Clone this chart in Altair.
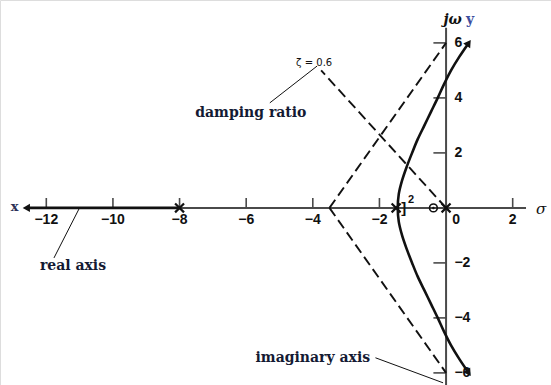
import math
import altair as alt
import pandas as pd

# ---- s-plane window (sigma, j-omega) ----
X_DOMAIN = [-13.39, 3.15]
Y_DOMAIN = [-6.44, 7.56]
PX_X = 551 / (X_DOMAIN[1] - X_DOMAIN[0])
PX_Y = 385 / (Y_DOMAIN[1] - Y_DOMAIN[0])

# ---- open-loop poles and zeros ----
poles = [-8.0, -1.5, 0.0]
zeros = [-0.38]

# ---- root-locus branches ----
real_branch_sigma = [-8.0, -12.6]
upper_omega = [0, 0.5, 1, 1.5, 2, 2.5, 3, 3.5, 4, 4.5, 5, 5.5, 6]
upper_sigma = [-1.45, -1.42, -1.32, -1.18, -1.02, -0.85, -0.65, -0.45, -0.25, -0.06, 0.15, 0.4, 0.68]

# ---- asymptotes (centroid, end points on the j-omega axis) ----
centroid = -3.5
asym_end_omega = [6.0, -6.0]

# ---- constant damping ratio line ----
zeta_sigma = [0.0, -3.75]
zeta_omega = [0.0, 5.0]

# ---- axes ----
x_ticks = [-12, -10, -8, -6, -4, -2, 2]
y_ticks = [6, 4, 2, -2, -4, -6]

xs = alt.Scale(domain=X_DOMAIN, nice=False, zero=False)
ys = alt.Scale(domain=Y_DOMAIN, nice=False, zero=False)


def X(field="x"):
    return alt.X(f"{field}:Q", scale=xs, axis=None)


def Y(field="y"):
    return alt.Y(f"{field}:Q", scale=ys, axis=None)


def segs(rows, **mark):
    df = pd.DataFrame(rows, columns=["x", "y", "x2", "y2"])
    return alt.Chart(df).mark_rule(**mark).encode(
        x=X(), y=Y(), x2="x2:Q", y2="y2:Q")


def label(rows, **mark):
    df = pd.DataFrame(rows, columns=["x", "y", "t"])
    return alt.Chart(df).mark_text(**mark).encode(x=X(), y=Y(), text="t:N")


AXIS = "#4a4a4a"
INK = "#111111"

# axis lines
axes = segs([[-12.55, 0, 2.4, 0], [0, 6.55, 0, Y_DOMAIN[0]]],
            color=AXIS, strokeWidth=2)

# tick marks
tick_rows = [[t, 0, t, 0.36] for t in x_ticks] + [[-0.38, t, 0, t] for t in y_ticks]
ticks = segs(tick_rows, color=AXIS, strokeWidth=1.6)

tick_font = dict(font="Liberation Sans", fontWeight="bold", fontSize=14, color=INK)
xlab = label([[t, -0.45, f"\u2212{abs(t)}" if t < 0 else str(t)] for t in x_ticks]
             + [[0.3, -0.45, "0"]], align="center", baseline="middle", **tick_font)
ylab = label([[0.25, t, f"\u2212{abs(t)}" if t < 0 else str(t)] for t in y_ticks],
             align="left", baseline="middle", **tick_font)

# locus on the real axis
real_branch = segs([[real_branch_sigma[0], 0, real_branch_sigma[1], 0]],
                   color=INK, strokeWidth=2.6)

# complex branch pair (lower half mirrored)
curve_rows = []
for i, (s, w) in enumerate(zip(reversed(upper_sigma), reversed(upper_omega))):
    curve_rows.append({"x": s, "y": -w, "o": i})
n = len(curve_rows)
for i, (s, w) in enumerate(zip(upper_sigma[1:], upper_omega[1:])):
    curve_rows.append({"x": s, "y": w, "o": n + i})
curve = alt.Chart(pd.DataFrame(curve_rows)).mark_line(
    color=INK, strokeWidth=2.6, interpolate="catmull-rom").encode(
    x=X(), y=Y(), order="o:Q")

# arrowheads along the direction of travel
dx = (upper_sigma[-1] - upper_sigma[-2]) * PX_X
dy = (upper_omega[-1] - upper_omega[-2]) * PX_Y
ang = math.degrees(math.atan2(dx, dy))
heads = pd.DataFrame({
    "x": [upper_sigma[-1], upper_sigma[-1], real_branch_sigma[1]],
    "y": [upper_omega[-1], -upper_omega[-1], 0.0],
    "a": [ang, 180 - ang, 270.0],
})
arrows = alt.Chart(heads).mark_point(
    shape="triangle-up", filled=True, color=INK, size=70, opacity=1).encode(
    x=X(), y=Y(), angle=alt.Angle("a:Q", scale=None))

# dashed asymptotes and damping-ratio line
dashed = segs([[centroid, 0, 0, asym_end_omega[0]],
               [centroid, 0, 0, asym_end_omega[1]],
               [zeta_sigma[0], zeta_omega[0], zeta_sigma[1], zeta_omega[1]]],
              color=INK, strokeWidth=1.9, strokeDash=[10, 5])

# poles (x) and zero (o)
pole_marks = alt.Chart(pd.DataFrame({"x": poles, "y": [0.0] * len(poles)})).mark_point(
    shape="M-1,-1L1,1M1,-1L-1,1", size=80, strokeWidth=2.2, color=INK, opacity=1).encode(
    x=X(), y=Y())
zero_df = pd.DataFrame({"x": zeros, "y": [0.0] * len(zeros)})
zero_ring = alt.Chart(zero_df).mark_point(
    shape="circle", size=60, strokeWidth=1.6, color=INK, opacity=1).encode(x=X(), y=Y())
zero_dot = alt.Chart(zero_df).mark_point(
    shape="circle", size=6, filled=True, color=INK, opacity=1).encode(x=X(), y=Y())

# double pole: bracket with multiplicity
bracket = label([[-1.27, 0.0, "]"]], font="Liberation Sans", fontSize=15,
                fontWeight="bold", color=INK, align="center", baseline="middle")
mult = label([[-1.05, 0.3, "2"]], font="Liberation Sans", fontSize=11,
             fontWeight="bold", color=INK, align="center", baseline="middle")

# axis names
sigma_lab = label([[2.85, -0.05, "\u03c3"]], font="DejaVu Serif", fontStyle="italic",
                  fontSize=15, color=INK, align="center", baseline="middle")
jw_lab = label([[0.2, 6.85, "j\u03c9"]], font="DejaVu Serif", fontStyle="italic",
               fontWeight="bold", fontSize=14, color=INK, align="center", baseline="middle")
y_lab = label([[0.72, 6.85, "y"]], font="DejaVu Serif", fontWeight="bold",
              fontSize=14, color="#3d4fa0", align="center", baseline="middle")
x_lab = label([[-12.95, 0.05, "x"]], font="DejaVu Serif", fontWeight="bold",
              fontSize=13, color="#2b2f55", align="center", baseline="middle")
zeta_lab = label([[-3.96, 5.27, "\u03b6 = 0.6"]], font="DejaVu Sans", fontSize=10,
                 color=INK, align="center", baseline="middle")

# annotations with leader lines
note_font = dict(font="DejaVu Serif", fontWeight="bold", fontSize=14, color="#141a33",
                 align="center", baseline="middle")
notes = label([[-5.86, 3.45, "damping ratio"],
               [-11.2, -2.1, "real axis"],
               [-4.0, -5.45, "imaginary axis"]], **note_font)
leaders = segs([[-5.29, 3.82, -3.87, 5.16],
                [-11.02, -0.04, -11.77, -1.82],
                [-2.12, -5.45, -0.09, -6.36]],
               color=INK, strokeWidth=1)

chart = alt.layer(
    axes, ticks, xlab, ylab, dashed, leaders, real_branch, curve, arrows,
    pole_marks, zero_ring, zero_dot, bracket, mult,
    sigma_lab, jw_lab, y_lab, x_lab, zeta_lab, notes,
).properties(
    width=551, height=385, padding=0,
    autosize=alt.AutoSizeParams(type="none"),
).configure_view(stroke=None).configure(background="white")

chart.save("out.html", embed_options={"renderer": "svg", "actions": False})
